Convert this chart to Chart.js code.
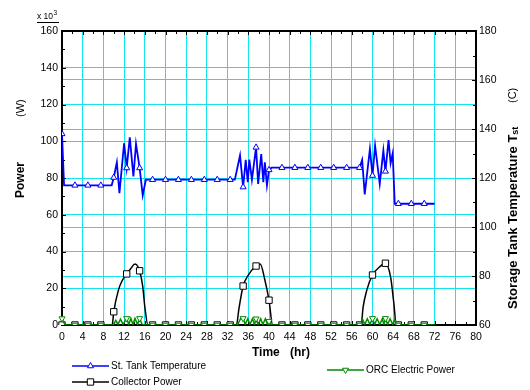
<!DOCTYPE html>
<html>
<head>
<meta charset="utf-8">
<script src="https://cdn.jsdelivr.net/npm/chart.js@4/dist/chart.umd.min.js"></script>
<style>
  html, body { margin: 0; padding: 0; background: #fff; }
</style>
</head>
<body>
<canvas id="chart" width="530" height="390"></canvas>
<script>
// storage tank temperature (C) vs time (hr)
const tempHours = [0, 0.4, 2.5, 5, 7.5, 9.6,
  10, 10.6, 11.1, 12.0, 12.5, 13.1, 13.8, 14.3, 15, 15.6, 16.2,
  17.5, 20, 22.5, 25, 27.5, 30, 32.5, 33.4,
  34.4, 35, 35.5, 35.9, 36.2, 36.7, 37.5, 37.9, 38.5, 38.9, 39.2, 39.6, 40, 40.5,
  42.5, 45, 47.5, 50, 52.5, 55, 57.5,
  58.0, 58.5, 59.5, 60, 60.5, 61.4, 62.1, 62.5, 63.1, 63.5, 63.9, 64.3,
  65, 67.5, 70, 72];
const tempValues = [138, 117, 117, 117, 117, 117,
  120.2, 126.4, 113.8, 134.2, 124.1, 136.6, 120.6, 133.9, 124.1, 112.9, 119.3,
  119.3, 119.3, 119.3, 119.3, 119.3, 119.3, 119.3, 119.3,
  129.2, 116.3, 127.4, 118.3, 127.5, 119.3, 132.5, 117.6, 129.8, 118.3, 126.4, 117, 123.3, 124.2,
  124.2, 124.2, 124.2, 124.2, 124.2, 124.2, 124.2,
  127.4, 113.3, 131.9, 121, 133.2, 117.6, 131.2, 122.7, 135.5, 126, 130, 109.5,
  109.5, 109.5, 109.5, 109.5];

// collector power (x 10^3 W)
const collectorHours = [0, 2.5, 5, 7.5, 9.7,
  10, 10.9, 11.6, 12.5, 13.3, 14.1, 14.7, 15, 15.6, 16, 16.6,
  17.5, 20, 22.5, 25, 27.5, 30, 32.5,
  33.7, 34.2, 35, 36, 37.5, 38.3, 39.2, 40, 40.7,
  42.5, 45, 47.5, 50, 52.5, 55, 57.5,
  57.8, 58.2, 58.9, 60, 61.4, 62.5, 63.5, 64.1, 64.6,
  65, 67.5, 70, 72];
const collectorValues = [0, 0, 0, 0, 0,
  7.2, 19, 24, 27.8, 30.8, 33.2, 31.7, 29.5, 21, 10, 0,
  0, 0, 0, 0, 0, 0, 0,
  0, 9, 21.2, 27.2, 32.1, 33.2, 24.5, 13.5, 0,
  0, 0, 0, 0, 0, 0, 0,
  0, 10, 19, 27.2, 31.7, 33.6, 26, 12.5, 0,
  0, 0, 0, 0];

// ORC electric power (x 10^3 W)
const orcHours = [0, 0.6, 2.5, 5, 7.5, 9.9,
  10.4, 10.8, 11.3, 11.8, 12.5, 12.9, 13.3, 13.7, 14.1, 14.6, 15, 15.5, 16,
  17.5, 20, 22.5, 25, 27.5, 30, 32.5,
  33.9, 34.5, 35, 35.4, 35.9, 36.3, 36.8, 37.2, 37.5, 37.9, 38.4, 38.8, 39.3, 39.7, 40, 40.4,
  42.5, 45, 47.5, 50, 52.5, 55, 57.5,
  57.7, 58.1, 58.5, 59, 59.5, 60, 60.4, 60.9, 61.4, 61.9, 62.2, 62.5, 62.9, 63.4, 63.9, 64.3, 64.7,
  65, 67.5, 70, 72];
const orcValues = [3.5, 0, 0, 0, 0, 0,
  2.5, 0.3, 3.2, 0.3, 3.6, 0.3, 3.6, 0.3, 3.6, 0.3, 3.6, 0.3, 0,
  0, 0, 0, 0, 0, 0, 0,
  0, 3.4, 3.6, 0.3, 3.4, 0.3, 3.4, 0.3, 3.4, 0.3, 3.4, 0.3, 3.4, 0.3, 2, 0,
  0, 0, 0, 0, 0, 0, 0,
  0, 3, 0.3, 3.4, 0.3, 3.6, 0.3, 3.4, 0.3, 3.4, 0.3, 3.6, 0.3, 3.4, 0.3, 3, 0,
  0, 0, 0, 0];

const timeTicks = [0, 4, 8, 12, 16, 20, 24, 28, 32, 36, 40, 44, 48, 52, 56, 60, 64, 68, 72, 76, 80];
const powerTicks = [0, 20, 40, 60, 80, 100, 120, 140, 160];
const tempTicks = [60, 80, 100, 120, 140, 160, 180];

const FONT = "'Liberation Sans', Arial, sans-serif";
const GRID = '#14e4ee';
const BLUE = '#0000ff';
const GREEN = '#008a00';

function toPoints(xs, ys) {
  return xs.map((x, i) => ({x: x, y: ys[i]}));
}

// a marker every 2.5 hr, like the original plot
function markerRadius(r) {
  return c => {
    const x = c.raw ? c.raw.x : NaN;
    return Math.abs(x / 2.5 - Math.round(x / 2.5)) < 1e-6 ? r : 0;
  };
}

function fixedTicks(list) {
  return s => { s.ticks = list.map(v => ({value: v})); };
}

const framePlugin = {
  id: 'frame',
  beforeDraw(chart) {
    const ctx = chart.ctx;
    ctx.save();
    ctx.fillStyle = '#fff';
    ctx.fillRect(0, 0, chart.width, chart.height);
    ctx.restore();
  },
  beforeDatasetsDraw(chart) {
    const ctx = chart.ctx;
    const a = chart.chartArea;
    const sx = chart.scales.x, sp = chart.scales.power, st = chart.scales.temp;
    ctx.save();
    ctx.strokeStyle = '#000';
    ctx.lineWidth = 1;
    ctx.beginPath();
    for (let v = 0; v <= 80; v += 2) {
      const x = Math.round(sx.getPixelForValue(v)) + 0.5;
      const len = v % 4 === 0 ? 4 : 3;
      ctx.moveTo(x, a.top); ctx.lineTo(x, a.top + len);
      ctx.moveTo(x, a.bottom); ctx.lineTo(x, a.bottom - len);
    }
    for (let v = 0; v <= 160; v += 10) {
      const y = Math.round(sp.getPixelForValue(v)) + 0.5;
      const len = v % 20 === 0 ? 4 : 3;
      ctx.moveTo(a.left, y); ctx.lineTo(a.left + len, y);
    }
    for (let v = 60; v <= 180; v += 10) {
      const y = Math.round(st.getPixelForValue(v)) + 0.5;
      const len = v % 20 === 0 ? 4 : 3;
      ctx.moveTo(a.right, y); ctx.lineTo(a.right - len, y);
    }
    ctx.stroke();
    ctx.lineWidth = 2;
    ctx.strokeRect(a.left, a.top, a.right - a.left, a.bottom - a.top);
    ctx.restore();
  },
  afterDraw(chart) {
    const ctx = chart.ctx;
    const h = Chart.helpers;
    ctx.save();
    ctx.fillStyle = '#000';
    ctx.textBaseline = 'middle';
    ctx.textAlign = 'left';

    // x 10^3 multiplier
    ctx.font = '8.5px ' + FONT;
    ctx.fillText('x 10', 37, 17);
    const mw = ctx.measureText('x 10').width;
    ctx.font = '6.5px ' + FONT;
    ctx.fillText('3', 37 + mw + 0.5, 13);
    ctx.lineWidth = 1;
    ctx.beginPath();
    ctx.moveTo(37, 22.5); ctx.lineTo(59, 22.5);
    ctx.stroke();

    // x axis title
    ctx.font = 'bold 12px ' + FONT;
    ctx.fillText('Time', 252, 353);
    ctx.fillText('(hr)', 290, 353);

    // left axis title
    ctx.save();
    ctx.translate(21, 198);
    ctx.rotate(-Math.PI / 2);
    ctx.font = 'bold 12px ' + FONT;
    ctx.fillText('Power', 0, 0);
    ctx.font = '11px ' + FONT;
    ctx.fillText('(W)', 81, 0);
    ctx.restore();

    // right axis title
    ctx.save();
    ctx.translate(513, 309);
    ctx.rotate(-Math.PI / 2);
    ctx.font = 'bold 13px ' + FONT;
    const main = 'Storage Tank Temperature T';
    ctx.fillText(main, 0, 0);
    const w = ctx.measureText(main).width;
    ctx.font = 'bold 9px ' + FONT;
    ctx.fillText('st', w, 3);
    ctx.font = '11px ' + FONT;
    ctx.fillText('(C)', 206, 0);
    ctx.restore();

    // legend
    const items = [
      {text: 'St. Tank Temperature', color: BLUE, style: 'triangle', rot: 0, r: 3.5, x: 72, y: 366},
      {text: 'Collector Power', color: '#000', style: 'rect', rot: 0, r: 4.5, x: 72, y: 382},
      {text: 'ORC Electric Power', color: GREEN, style: 'triangle', rot: 180, r: 3.5, x: 327, y: 370}
    ];
    ctx.font = '10px ' + FONT;
    items.forEach(it => {
      ctx.strokeStyle = it.color;
      ctx.lineWidth = 1.5;
      ctx.beginPath();
      ctx.moveTo(it.x, it.y); ctx.lineTo(it.x + 37, it.y);
      ctx.stroke();
      ctx.fillStyle = '#fff';
      ctx.lineWidth = 1;
      h.drawPoint(ctx, {pointStyle: it.style, radius: it.r, rotation: it.rot, borderWidth: 1}, it.x + 18.5, it.y);
      ctx.fillStyle = '#000';
      ctx.fillText(it.text, it.x + 39, it.y);
    });
    ctx.restore();
  }
};

const tickFont = {family: FONT, size: 10.5};

new Chart(document.getElementById('chart'), {
  type: 'line',
  data: {
    datasets: [
      {
        label: 'ORC Electric Power',
        data: toPoints(orcHours, orcValues),
        yAxisID: 'power',
        borderColor: GREEN,
        borderWidth: 1.5,
        tension: 0,
        pointStyle: 'triangle',
        pointRotation: 180,
        pointRadius: markerRadius(3.5),
        pointBackgroundColor: '#fff',
        pointBorderColor: GREEN,
        pointBorderWidth: 1,
        clip: {left: 5, top: 5, right: 5, bottom: 0},
        order: 0
      },
      {
        label: 'Collector Power',
        data: toPoints(collectorHours, collectorValues),
        yAxisID: 'power',
        borderColor: '#000',
        borderWidth: 1.5,
        cubicInterpolationMode: 'monotone',
        pointStyle: 'rect',
        pointRadius: markerRadius(4.5),
        pointBackgroundColor: '#fff',
        pointBorderColor: '#000',
        pointBorderWidth: 1,
        clip: {left: 5, top: 5, right: 5, bottom: 0},
        order: 1
      },
      {
        label: 'St. Tank Temperature',
        data: toPoints(tempHours, tempValues),
        yAxisID: 'temp',
        borderColor: BLUE,
        borderWidth: 1.8,
        tension: 0,
        pointStyle: 'triangle',
        pointRadius: markerRadius(3.5),
        pointBackgroundColor: '#fff',
        pointBorderColor: BLUE,
        pointBorderWidth: 1,
        order: 2
      }
    ]
  },
  options: {
    responsive: false,
    animation: false,
    devicePixelRatio: 1,
    layout: {padding: {top: 31, left: 0, right: 0, bottom: 0}},
    plugins: {legend: {display: false}, tooltip: {enabled: false}},
    scales: {
      x: {
        type: 'linear', min: 0, max: 80,
        afterBuildTicks: fixedTicks(timeTicks),
        afterFit: s => { s.height = 65; },
        grid: {color: GRID, drawTicks: false},
        border: {display: false},
        ticks: {font: tickFont, color: '#000', padding: 6, maxRotation: 0, autoSkip: false}
      },
      power: {
        type: 'linear', position: 'left', min: 0, max: 160,
        afterBuildTicks: fixedTicks(powerTicks),
        afterFit: s => { s.width = 62; },
        grid: {color: GRID, drawTicks: false},
        border: {display: false},
        ticks: {font: tickFont, color: '#000', padding: 4}
      },
      temp: {
        type: 'linear', position: 'right', min: 60, max: 180,
        afterBuildTicks: fixedTicks(tempTicks),
        afterFit: s => { s.width = 54; },
        grid: {color: GRID, drawTicks: false},
        border: {display: false},
        ticks: {font: tickFont, color: '#000', padding: 3}
      }
    }
  },
  plugins: [framePlugin]
});
</script>
</body>
</html>
